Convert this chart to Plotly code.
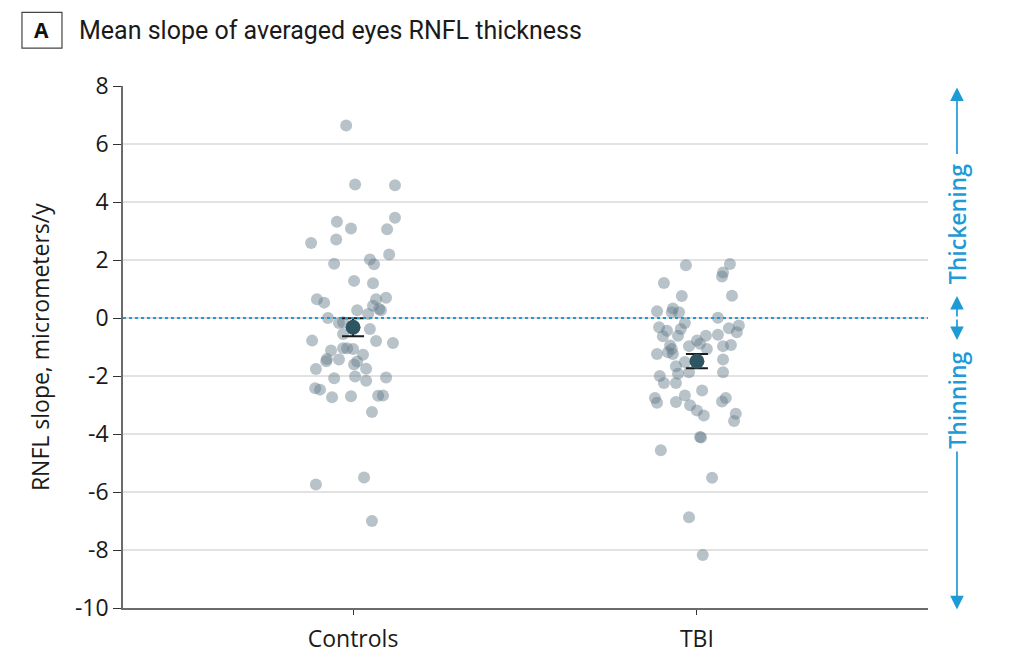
import plotly.graph_objects as go

# ---------------- data ----------------
groups = ["Controls", "TBI"]
group_pos = [0, 1]

controls_slope = [6.64, 4.60, 4.58, 3.32, 3.46, 3.09, 3.06, 2.59, 2.71, 2.19,
                  2.02, 1.85, 1.87, 1.28, 1.20, 0.65, 0.53, 0.65, 0.70, 0.27,
                  0.31, 0.27, 0.14, 0.00, 0.42, -0.17, -0.15, -0.38, -0.55, -0.78,
                  -0.79, -0.86, -1.12, -1.04, -1.04, -1.07, -1.27, -1.41, -1.49, -1.43,
                  -1.60, -1.50, -1.76, -1.75, -2.08, -2.02, -2.16, -2.05, -2.42, -2.47,
                  -2.73, -2.70, -2.68, -2.67, -3.24, -5.50, -5.74, -7.00]
controls_jitter = [-0.020, 0.006, 0.122, -0.047, 0.122, -0.006, 0.099, -0.122, -0.049, 0.105,
                   0.049, 0.061, -0.055, 0.003, 0.058, -0.105, -0.084, 0.067, 0.096, 0.012,
                   0.076, 0.081, 0.044, -0.073, 0.058, -0.041, -0.029, 0.049, -0.029, -0.119,
                   0.067, 0.116, -0.064, -0.029, -0.017, 0.000, 0.029, -0.076, -0.078, -0.041,
                   0.003, 0.012, -0.108, 0.038, -0.055, 0.006, 0.038, 0.096, -0.110, -0.096,
                   -0.061, -0.006, 0.073, 0.087, 0.055, 0.032, -0.108, 0.055]

tbi_slope = [1.82, 1.86, 1.57, 1.43, 1.21, 0.76, 0.77, 0.23, 0.33, 0.20,
             0.20, 0.01, -0.17, -0.32, -0.44, -0.38, -0.35, -0.26, -0.49, -0.63,
             -0.61, -0.61, -0.58, -0.78, -0.89, -1.07, -0.95, -1.07, -1.24, -1.18,
             -0.97, -0.97, -0.93, -1.24, -1.43, -1.52, -1.66, -1.92, -1.87, -1.87,
             -2.00, -2.24, -2.24, -2.50, -2.76, -2.92, -2.90, -2.67, -3.01, -3.19,
             -3.36, -2.76, -2.88, -3.30, -3.55, -4.10, -4.12, -4.56, -5.51, -6.87,
             -8.17]
tbi_jitter = [-0.032, 0.096, 0.076, 0.073, -0.096, -0.044, 0.102, -0.116, -0.070, -0.073,
              -0.052, 0.061, -0.035, -0.110, -0.087, -0.047, 0.093, 0.122, 0.116, -0.099,
              -0.055, 0.026, 0.061, 0.000, 0.009, 0.029, -0.078, -0.073, -0.070, -0.084,
              -0.023, 0.076, 0.099, -0.116, 0.076, -0.035, -0.061, -0.055, -0.023, 0.076,
              -0.108, -0.096, -0.061, 0.015, -0.122, -0.116, -0.061, -0.035, -0.020, 0.000,
              0.020, 0.084, 0.073, 0.113, 0.108, 0.009, 0.012, -0.105, 0.044, -0.023,
              0.017]

group_mean = [-0.32, -1.49]
group_se = [0.31, 0.245]

y_ticks = [8, 6, 4, 2, 0, -2, -4, -6, -8, -10]
y_ticktext = ["8", "6", "4", "2", "0", "-2", "-4", "-6", "-8", "-10"]

# ---------------- styles ----------------
DOT = "rgba(100,124,137,0.46)"
MEAN = "#2e5562"
BLUE = "#1e9ad6"
FONT = "Open Sans"
TITLE_FONT = "Roboto"

fig = go.Figure()

for pos, vals, jit in [(group_pos[0], controls_slope, controls_jitter),
                       (group_pos[1], tbi_slope, tbi_jitter)]:
    fig.add_trace(go.Scatter(
        x=[pos + j for j in jit], y=vals, mode="markers",
        marker=dict(size=12, color=DOT, line=dict(width=0)),
        showlegend=False, hoverinfo="y"))

fig.add_trace(go.Scatter(
    x=group_pos, y=group_mean, mode="markers",
    marker=dict(size=15, color=MEAN, line=dict(width=0)),
    error_y=dict(type="data", array=group_se, color="#1a1a1a", thickness=2, width=11),
    showlegend=False))

# zero reference line
fig.add_shape(type="line", xref="paper", yref="y", x0=0, x1=1, y0=0, y1=0,
              line=dict(color=BLUE, width=2, dash="dot"), layer="above")

# panel label box and title
fig.add_shape(type="rect", xref="paper", yref="paper",
              x0=-0.1255, x1=-0.0758, y0=1.0725, y1=1.141,
              line=dict(color="#444444", width=1.2), fillcolor="white")
fig.add_annotation(xref="paper", yref="paper", x=-0.1007, y=1.107, text="<b>A</b>",
                   showarrow=False, font=dict(family=FONT, size=21, color="#111111"),
                   xanchor="center", yanchor="middle")
fig.add_annotation(xref="paper", yref="paper", x=-0.057, y=1.107,
                   text="Mean slope of averaged eyes RNFL thickness",
                   showarrow=False, font=dict(family=TITLE_FONT, size=25, color="#1a1a1a"),
                   xanchor="left", yanchor="middle")

# y axis title
fig.add_annotation(xref="paper", yref="paper", x=-0.103, y=0.5,
                   text="RNFL slope, micrometers/y", textangle=-90, showarrow=False,
                   font=dict(family=FONT, size=23, color="#1a1a1a"),
                   xanchor="center", yanchor="middle")

# right-hand direction annotations
AX = 1.036
fig.add_annotation(xref="paper", yref="y", x=AX, y=3.23, text="Thickening",
                   textangle=-90, showarrow=False, xanchor="center", yanchor="middle",
                   font=dict(family=FONT, size=23, color=BLUE, weight=600))
fig.add_annotation(xref="paper", yref="y", x=AX, y=-2.82, text="Thinning",
                   textangle=-90, showarrow=False, xanchor="center", yanchor="middle",
                   font=dict(family=FONT, size=23, color=BLUE, weight=600))
for tip, tail in [(7.95, 5.6), (0.76, 0.0), (-0.76, 0.0), (-10.05, -4.55)]:
    fig.add_annotation(xref="paper", yref="y", x=AX, y=tip, text="",
                       axref="pixel", ayref="y", ax=0, ay=tail,
                       showarrow=True, arrowhead=2, arrowsize=1.6, arrowwidth=1.7,
                       arrowcolor=BLUE)

fig.update_layout(
    width=1016, height=658,
    margin=dict(l=115, r=96, t=78, b=53),
    paper_bgcolor="white", plot_bgcolor="white",
    font=dict(family=FONT, size=23, color="#1a1a1a"),
    xaxis=dict(range=[-0.669, 1.672], tickvals=group_pos, ticktext=groups,
               showgrid=False, zeroline=False, showline=True, linecolor="#6b6b6b",
               linewidth=2, ticks="outside", ticklen=5, tickcolor="#333333",
               tickwidth=1.2, ticklabelstandoff=4,
               tickfont=dict(family=FONT, size=23, color="#1a1a1a")),
    yaxis=dict(range=[-10, 8], tickvals=y_ticks, ticktext=y_ticktext,
               showgrid=True, gridcolor="#e2e2e2", gridwidth=1.5, zeroline=False,
               showline=True, linecolor="#6b6b6b", linewidth=1.5,
               ticks="outside", ticklen=8, tickcolor="#333333", tickwidth=1.2,
               tickfont=dict(family=FONT, size=23, color="#1a1a1a")),
)

fig.write_html("out.html")
